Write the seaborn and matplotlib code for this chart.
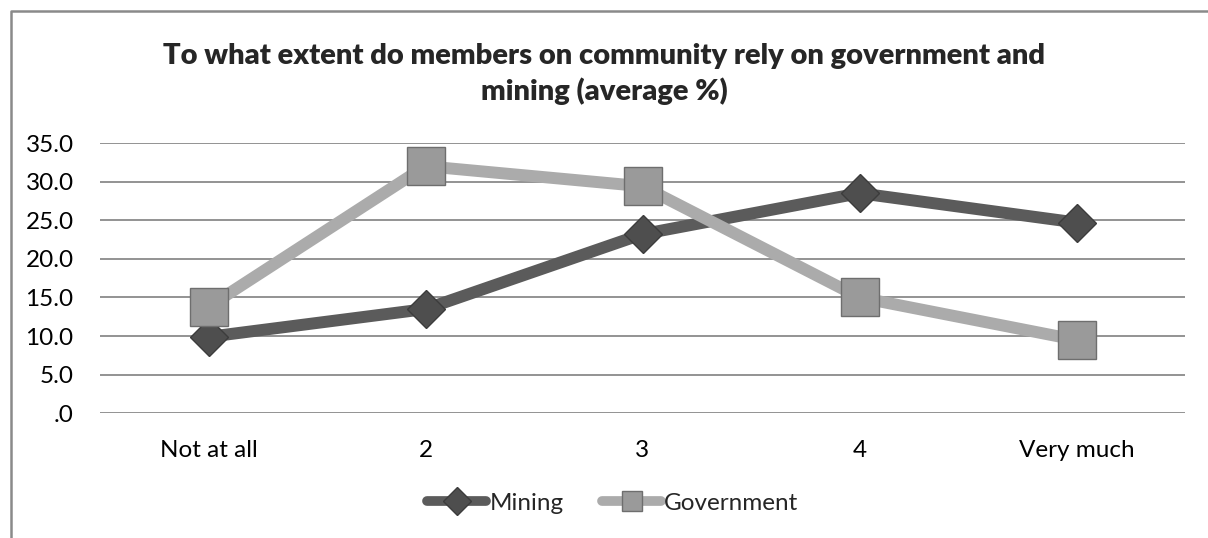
import matplotlib
matplotlib.use("Agg")
import matplotlib.pyplot as plt
from matplotlib.lines import Line2D
from matplotlib.ticker import FuncFormatter, MultipleLocator
import pandas as pd
import seaborn as sns

categories = ["Not at all", "2", "3", "4", "Very much"]
mining = [9.9, 13.5, 23.2, 28.5, 24.7]
government = [13.8, 32.0, 29.4, 15.0, 9.5]
series_names = ["Mining", "Government"]
title = "To what extent do members on community rely on government and\nmining (average %)"

df = pd.DataFrame({
    "level": categories * 2,
    "pos": list(range(len(categories))) * 2,
    "value": mining + government,
    "series": ["Mining"] * len(mining) + ["Government"] * len(government),
})

sns.set_theme(style="white")
plt.rcParams["font.family"] = ["Lato", "DejaVu Sans"]

line_colors = {"Mining": "#5b5b5b", "Government": "#ababab"}
marker_colors = {"Mining": "#4e4e4e", "Government": "#9a9a9a"}
edge_colors = {"Mining": "#3c3c3c", "Government": "#6e6e6e"}
marker_shapes = {"Mining": "D", "Government": "s"}
marker_sizes = {"Mining": 19, "Government": 27}

fig = plt.figure(figsize=(12.08, 5.38), dpi=100)
ax = fig.add_axes([100 / 1208, 1 - 413.3 / 538, 1085 / 1208, 270.3 / 538])

for name in series_names:
    sub = df[df["series"] == name]
    sns.lineplot(data=sub, x="pos", y="value", ax=ax, color=line_colors[name],
                 linewidth=8.6, sort=False, legend=False, zorder=3)
    ax.plot(sub["pos"], sub["value"], linestyle="none",
            marker=marker_shapes[name], markersize=marker_sizes[name],
            markerfacecolor=marker_colors[name], markeredgecolor=edge_colors[name],
            markeredgewidth=1.0, zorder=4)

ax.set_xlim(-0.5, len(categories) - 0.5)
ax.set_ylim(0, 35)
ax.yaxis.set_major_locator(MultipleLocator(5))
ax.yaxis.set_major_formatter(FuncFormatter(
    lambda v, p: ".0" if abs(v) < 1e-9 else f"{v:.1f}"))
ax.set_xticks(range(len(categories)))
ax.set_xticklabels(categories)
ax.set_xlabel("")
ax.set_ylabel("")
ax.grid(axis="y", color="#8a8a8a", linewidth=1.3, zorder=0)
ax.grid(axis="x", visible=False)
for s in ax.spines.values():
    s.set_visible(False)
ax.tick_params(axis="both", length=0, labelsize=17.5, colors="black")
ax.tick_params(axis="y", pad=19)
ax.tick_params(axis="x", pad=19)

fig.text(0.5, 1 - 74 / 538, title, ha="center", va="center",
         fontsize=21, fontweight="heavy", linespacing=1.4)

handles = [
    Line2D([], [], color=line_colors[n], linewidth=7, solid_capstyle="round",
           marker=marker_shapes[n], markersize=14,
           markerfacecolor=marker_colors[n], markeredgecolor=edge_colors[n])
    for n in series_names
]
fig.legend(handles, series_names, loc="center", bbox_to_anchor=(613 / 1208, 1 - 503 / 538),
           ncol=2, frameon=False, fontsize=17.5, handlelength=2.4,
           handletextpad=0.15, columnspacing=1.6)

# outer chart frame
fig.add_artist(Line2D([10.5 / 1208, 10.5 / 1208, 1.0], [0.0, 1 - 11 / 538, 1 - 11 / 538],
                      transform=fig.transFigure, color="#8a8a8a", linewidth=1.8))

fig.savefig("out.png", dpi=100, facecolor="white")
